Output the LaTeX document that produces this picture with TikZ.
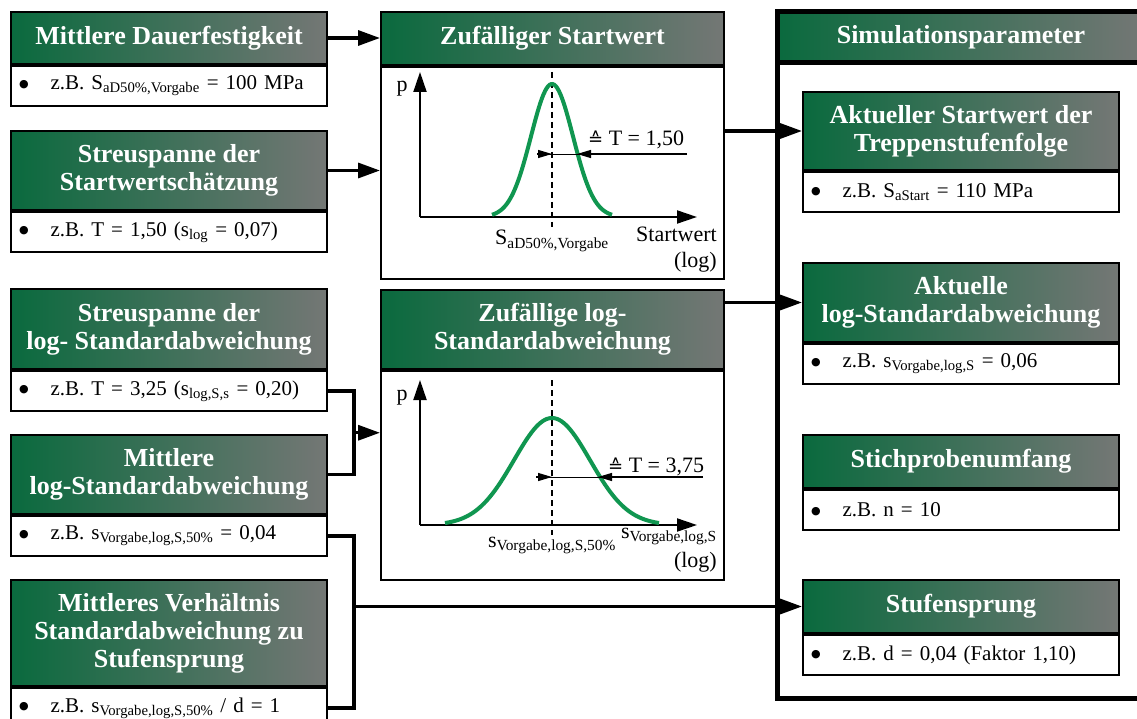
\documentclass[tikz,border=0pt]{standalone}
\usepackage{fontspec}
\setmainfont{Liberation Serif}
\newfontfamily\symfont{DejaVu Sans}
\usepackage{tikz}
\usetikzlibrary{arrows.meta,shapes,positioning,calc}
\definecolor{hdgreen}{RGB}{10,106,62}
\definecolor{hdgray}{RGB}{116,119,117}
\definecolor{curvegreen}{RGB}{16,150,80}
\tikzstyle{headbox} = [rectangle, draw=black, line width=2pt, left color=hdgreen, right color=hdgray, text=white, font=\fontsize{26}{28}\selectfont\bfseries, align=center, minimum width=316pt, minimum height=53pt, inner sep=2pt]
\tikzstyle{bodybox} = [rectangle, draw=black, line width=2pt, fill=white, font=\fontsize{21}{26}\selectfont, text width=300pt, align=left, minimum height=40pt, inner xsep=8pt, inner ysep=2pt]
\tikzstyle{plotbox} = [rectangle, draw=black, line width=2pt, fill=white, minimum width=343pt]
\tikzstyle{arrow} = [line width=3.3pt, -{Triangle[length=22pt,width=15pt]}]
\tikzstyle{link} = [line width=3.3pt]
\tikzstyle{axis} = [line width=2pt, -{Triangle[length=20pt,width=13pt]}]
\tikzstyle{dimarrow} = [line width=1.2pt, -{Triangle[length=14pt,width=8pt]}]
\tikzstyle{lbl} = [font=\fontsize{22}{26}\selectfont, inner sep=0pt]
\newcommand{\bul}{\raisebox{2.5pt}{\symfont\fontsize{11}{11}\selectfont ●}\hspace{22pt}}
\newcommand{\entspr}{{\symfont\fontsize{18}{20}\selectfont ≙}}

\begin{document}
\begin{tikzpicture}[x=1pt, y=-1pt]
\useasboundingbox (0,0) rectangle (1137,719);

% Input parameters
\node[headbox, minimum height=52pt] (b1h) at (169,38) {Mittlere Dauerfestigkeit};
\node[bodybox, below=0pt of b1h] (b1b) {\bul z.B. S\textsubscript{aD50\%,Vorgabe} = 100 MPa};
\node[headbox, minimum height=79pt] (b2h) at (169,170.5) {Streuspanne der\\Startwertschätzung};
\node[bodybox, below=0pt of b2h] (b2b) {\bul z.B. T = 1,50 (s\textsubscript{log} = 0,07)};
\node[headbox, minimum height=80pt] (b3h) at (169,329) {Streuspanne der\\log- Standardabweichung};
\node[bodybox, below=0pt of b3h] (b3b) {\bul z.B. T = 3,25 (s\textsubscript{log,S,s} = 0,20)};
\node[headbox, minimum height=79pt] (b4h) at (169,474.5) {Mittlere\\log-Standardabweichung};
\node[bodybox, below=0pt of b4h] (b4b) {\bul z.B. s\textsubscript{Vorgabe,log,S,50\%} = 0,04};
\node[headbox, minimum height=106pt] (b5h) at (169,633) {Mittleres Verhältnis\\Standardabweichung zu\\Stufensprung};
\node[bodybox, below=0pt of b5h] (b5b) {\bul z.B. s\textsubscript{Vorgabe,log,S,50\%} / d = 1};

% Random start value
\node[headbox, minimum width=343pt] (m1h) at (552.5,38.5) {Zufälliger Startwert};
\node[plotbox, minimum height=212pt, below=0pt of m1h] (m1b) {};
\draw[axis] (420,217) -- (420,72);
\draw[axis] (420,217) -- (697,217);
\draw[line width=1.2pt, dash pattern=on 6pt off 4pt] (552,72) -- (552,227);
\draw[curvegreen, line width=4pt, smooth, samples=80, domain=492:612] plot (\x, {217-133*exp(-0.5*((\x-552)/21)^2)});
\draw (537,154) -- (687,154);
\draw[dimarrow] (537,154) -- (552,154);
\draw[dimarrow] (687,154) -- (577,154);
\node[lbl, anchor=base] (p1) at (402,92) {p};
\node[lbl, anchor=base] (s1) at (552,245) {S\textsubscript{aD50\%,Vorgabe}};
\node[lbl, anchor=base east] (x1) at (717,242) {Startwert};
\node[lbl, anchor=base east] (x1log) at (717,267) {(log)};
\node[lbl, anchor=base west] (t1) at (588,146) {\entspr\ T = 1,50};

% Random log standard deviation
\node[headbox, minimum width=343pt, minimum height=79pt] (m2h) at (552.5,329.5) {Zufällige log-\\Standardabweichung};
\node[plotbox, minimum height=209pt, below=0pt of m2h] (m2b) {};
\draw[axis] (420,525) -- (420,380);
\draw[axis] (420,525) -- (697,525);
\draw[line width=1.2pt, dash pattern=on 6pt off 4pt] (552,380) -- (552,535);
\draw[curvegreen, line width=4pt, smooth, samples=100, domain=445:659] plot (\x, {525-107*exp(-0.5*((\x-552)/38)^2)});
\draw (536,477) -- (703,477);
\draw[dimarrow] (536,477) -- (552,477);
\draw[dimarrow] (703,477) -- (598,477);
\node[lbl, anchor=base] (p2) at (402,400) {p};
\node[lbl, anchor=base] (s2) at (552,547) {s\textsubscript{Vorgabe,log,S,50\%}};
\node[lbl, anchor=base east] (x2) at (717,538) {s\textsubscript{Vorgabe,log,S}};
\node[lbl, anchor=base east] (x2log) at (717,567) {(log)};
\node[lbl, anchor=base west] (t2) at (608,472) {\entspr\ T = 3,75};

% Simulation parameters
\draw[line width=5pt] (777,12) rectangle (1145,698);
\node[headbox, line width=5pt, minimum width=368pt, minimum height=51pt] (simh) at (961,37.5) {Simulationsparameter};
\node[headbox, minimum height=78pt] (r1h) at (961,131) {Aktueller Startwert der\\Treppenstufenfolge};
\node[bodybox, below=0pt of r1h] (r1b) {\bul z.B. S\textsubscript{aStart} = 110 MPa};
\node[headbox, minimum height=79pt] (r2h) at (961,302.5) {Aktuelle\\log-Standardabweichung};
\node[bodybox, below=0pt of r2h] (r2b) {\bul z.B. s\textsubscript{Vorgabe,log,S} = 0,06};
\node[headbox] (r3h) at (961,461.5) {Stichprobenumfang};
\node[bodybox, below=0pt of r3h] (r3b) {\bul z.B. n = 10};
\node[headbox] (r4h) at (961,606.5) {Stufensprung};
\node[bodybox, below=0pt of r4h] (r4b) {\bul z.B. d = 0,04 (Faktor 1,10)};

% Connections
\draw[arrow] (b1h.east) -- (b1h.east -| m1h.west);
\draw[arrow] (b2h.east) -- (b2h.east -| m1b.west);
\draw[arrow] (m1b.east |- r1h.west) -- (r1h.west);
\draw[arrow] (m2h.east |- r2h.west) -- (r2h.west);
\draw[link] (b3b.east) -- ++(26,0) |- (b4h.east);
\coordinate (j1) at ($(b3b.east)!0.5!(b4h.east)+(26,0)$);
\draw[arrow] (j1) -- (j1 -| m2b.west);
\draw[link] (b4b.east) -- ++(26,0) |- (b5b.east);
\draw[arrow] (j1 |- r4h.west) -- (r4h.west);
\end{tikzpicture}
\end{document}
